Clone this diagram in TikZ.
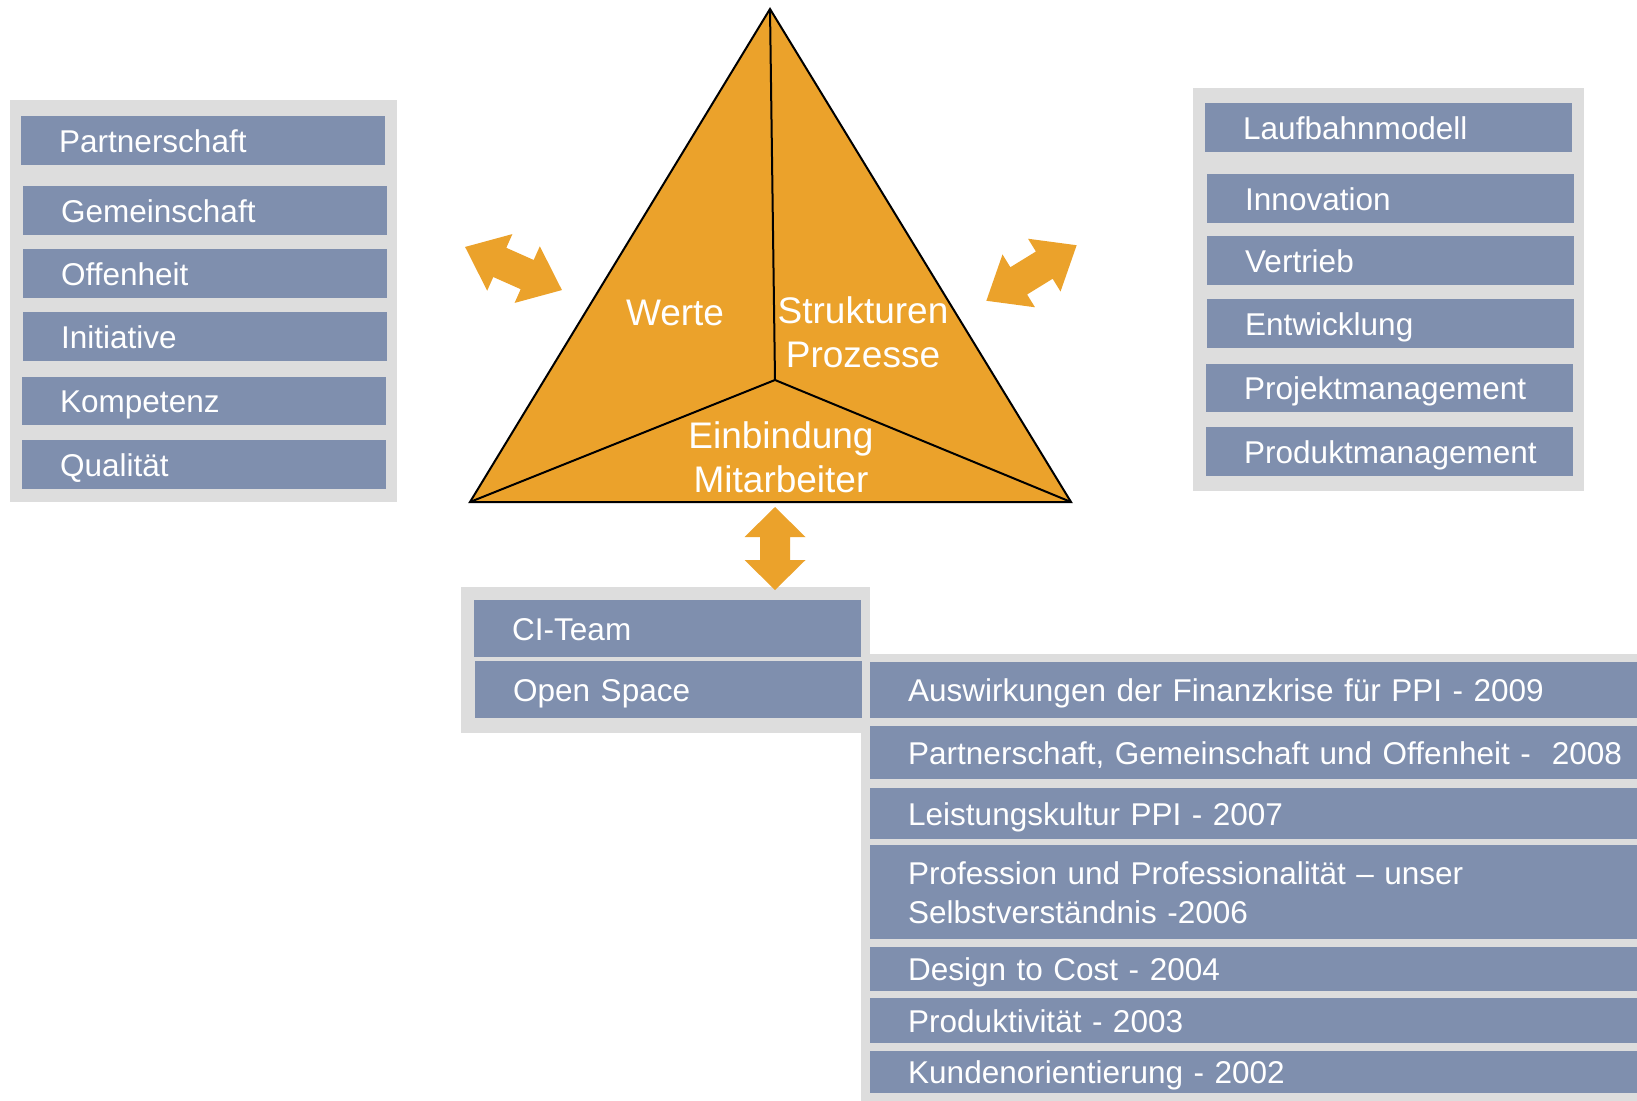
\documentclass[tikz,border=0pt]{standalone}
\usepackage{fontspec}
\setmainfont{Liberation Sans}
\usepackage{tikz}

\definecolor{ppiorange}{RGB}{235,162,43}
\definecolor{blaugrau}{RGB}{127,143,174}
\definecolor{hellgrau}{RGB}{221,221,221}

\begin{document}
\begin{tikzpicture}[x=1pt, y=-1pt,
    gruppe/.style={fill=hellgrau},
    feld/.style={fill=blaugrau, text=white, anchor=north west, align=left,
      inner xsep=38pt, inner ysep=0pt, text height=23pt, text depth=0pt,
      font=\fontsize{31.5}{39}\selectfont},
    pfeil/.style={fill=ppiorange},
    dreieck/.style={fill=ppiorange, draw=black, line width=2pt},
    titel/.style={text=white, anchor=base, align=center,
      font=\fontsize{37}{44}\selectfont}]
  \useasboundingbox (0,0) rectangle (1637,1100);

  % Gruppe links
  \fill[gruppe] (10,100) rectangle (397,502);
  \node[feld, text width=288pt, minimum height=49pt] (partnerschaft) at (21,116) {Partnerschaft};
  \node[feld, text width=288pt, minimum height=49pt] (gemeinschaft) at (23,186) {Gemeinschaft};
  \node[feld, text width=288pt, minimum height=49pt] (offenheit) at (23,249) {Offenheit};
  \node[feld, text width=288pt, minimum height=49pt] (initiative) at (23,312) {Initiative};
  \node[feld, text width=288pt, minimum height=48pt] (kompetenz) at (22,377) {Kompetenz};
  \node[feld, text width=288pt, minimum height=49pt] (qualitaet) at (22,440) {Qualität};

  % Gruppe rechts
  \fill[gruppe] (1193,88) rectangle (1584,491);
  \node[feld, text width=291pt, minimum height=49pt] (laufbahn) at (1205,103) {Laufbahnmodell};
  \node[feld, text width=291pt, minimum height=49pt] (innovation) at (1207,174) {Innovation};
  \node[feld, text width=291pt, minimum height=49pt] (vertrieb) at (1207,236) {Vertrieb};
  \node[feld, text width=291pt, minimum height=49pt] (entwicklung) at (1207,299) {Entwicklung};
  \node[feld, text width=291pt, minimum height=48pt] (projekt) at (1206,364) {Projektmanagement};
  \node[feld, text width=291pt, minimum height=49pt] (produkt) at (1206,427) {Produktmanagement};

  % Gruppe unten
  \fill[gruppe] (461,587) rectangle (870,733);
  \fill[gruppe] (861,654) rectangle (1700,1110);
  \node[feld, text width=311pt, minimum height=57pt] (citeam) at (474,600) {CI-Team};
  \node[feld, text width=311pt, minimum height=57pt] (openspace) at (475,661) {Open Space};

  % Themen
  \node[feld, text width=754pt, minimum height=56pt] (t2009) at (870,662) {Auswirkungen der Finanzkrise für PPI - 2009};
  \node[feld, text width=754pt, minimum height=53pt] (t2008) at (870,726) {Partnerschaft, Gemeinschaft und Offenheit - \ 2008};
  \node[feld, text width=754pt, minimum height=51pt] (t2007) at (870,788) {Leistungskultur PPI - 2007};
  \node[feld, text width=754pt, minimum height=94pt, text depth=39pt] (t2006) at (870,845) {Profession und Professionalität – unser\\Selbstverständnis -2006};
  \node[feld, text width=754pt, minimum height=44pt] (t2004) at (870,947) {Design to Cost - 2004};
  \node[feld, text width=754pt, minimum height=45pt] (t2003) at (870,998) {Produktivität - 2003};
  \node[feld, text width=754pt, minimum height=42pt] (t2002) at (870,1051) {Kundenorientierung - 2002};

  % Dreieck
  \coordinate (spitze) at (770,9);
  \coordinate (links) at (470,502);
  \coordinate (rechts) at (1071,502);
  \coordinate (mitte) at (775,380);
  \filldraw[dreieck] (spitze) -- (links) -- (rechts) -- cycle;
  \draw[line width=2pt] (spitze) -- (mitte) (links) -- (mitte) -- (rechts);
  \node[titel] (werte) at (675,325) {Werte};
  \node[titel] (strukturen) at (863,367) {Strukturen\\Prozesse};
  \node[titel] (einbindung) at (781,492) {Einbindung\\Mitarbeiter};

  % Doppelpfeile
  \fill[pfeil, shift={(513.5,268.5)}, rotate=-24]
    (-53,0) -- (-15,31) -- (-15,16) -- (15,16) -- (15,31) -- (53,0)
    -- (15,-31) -- (15,-16) -- (-15,-16) -- (-15,-31) -- cycle;
  \fill[pfeil, shift={(1031.5,273)}, rotate=31.6]
    (-53,0) -- (-15,31) -- (-15,16) -- (15,16) -- (15,31) -- (53,0)
    -- (15,-31) -- (15,-16) -- (-15,-16) -- (-15,-31) -- cycle;
  \fill[pfeil, shift={(775,548.5)}, rotate=90]
    (-41.5,0) -- (-11.5,30.5) -- (-11.5,15) -- (11.5,15) -- (11.5,30.5) -- (41.5,0)
    -- (11.5,-30.5) -- (11.5,-15) -- (-11.5,-15) -- (-11.5,-30.5) -- cycle;
\end{tikzpicture}
\end{document}
